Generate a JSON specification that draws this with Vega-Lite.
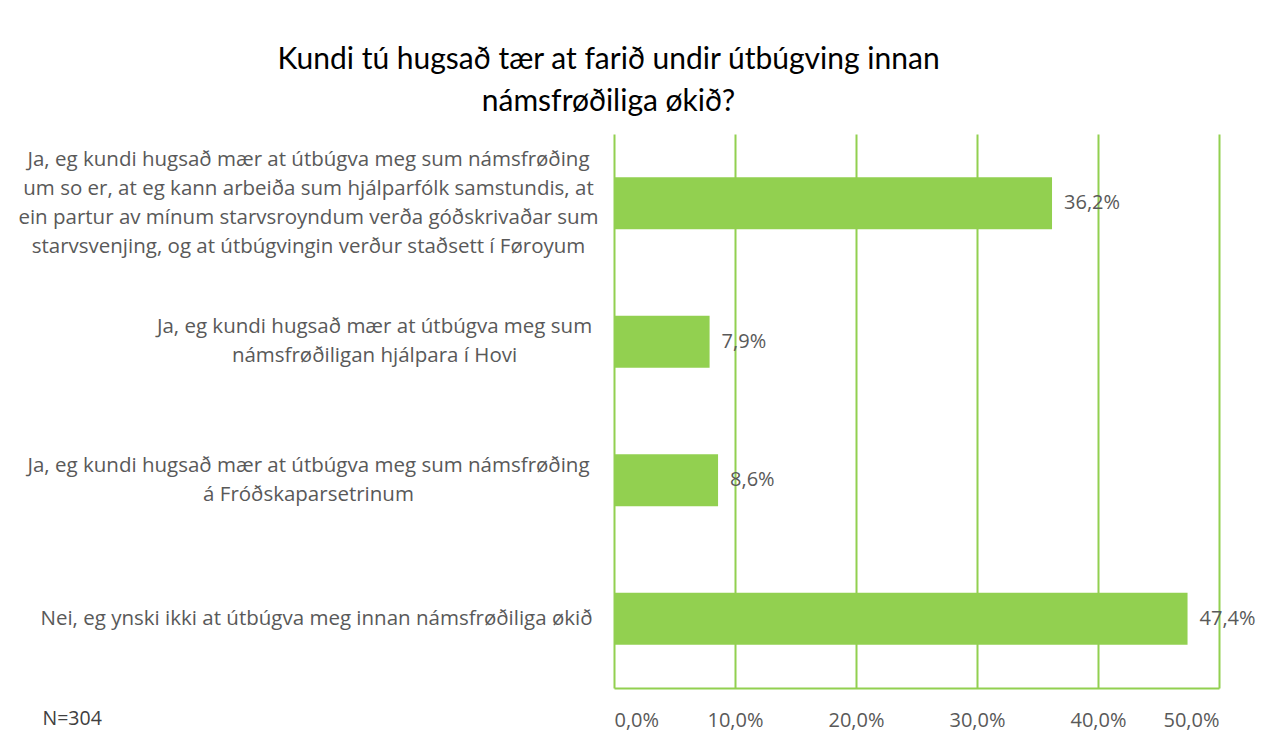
{
  "$schema": "https://vega.github.io/schema/vega-lite/v6.json",
  "width": 605,
  "height": 554,
  "autosize": {"type": "none"},
  "padding": {"left": 614, "top": 134, "right": 50, "bottom": 59},
  "background": "white",
  "title": {
    "text": ["Kundi tú hugsað tær at farið undir útbúgving innan", "námsfrøðiliga økið?"],
    "anchor": "middle",
    "frame": "group",
    "dx": -308,
    "offset": 17,
    "font": "Liberation Sans Narrow, Lato, sans-serif",
    "fontSize": 30,
    "fontWeight": "normal",
    "color": "#000000",
    "lineHeight": 42
  },
  "data": {
    "values": [
      {"label": "Ja, eg kundi hugsað mær at útbúgva meg sum námsfrøðing|um so er, at eg kann arbeiða sum hjálparfólk samstundis, at|ein partur av mínum starvsroyndum verða góðskrivaðar sum|starvsvenjing, og at útbúgvingin verður staðsett í Føroyum", "share": 0.362},
      {"label": "Ja, eg kundi hugsað mær at útbúgva meg sum|námsfrøðiligan hjálpara í Hovi", "share": 0.079},
      {"label": "Ja, eg kundi hugsað mær  at útbúgva meg sum námsfrøðing|á Fróðskaparsetrinum", "share": 0.086},
      {"label": "Nei, eg ynski ikki at útbúgva meg innan námsfrøðiliga økið", "share": 0.474}
    ]
  },
  "encoding": {
    "y": {
      "field": "label",
      "type": "nominal",
      "sort": null,
      "scale": {"paddingInner": 0.625, "paddingOuter": 0.3125},
      "axis": {
        "title": null,
        "domain": false,
        "ticks": false,
        "tickSize": 0,
        "labelExpr": "split(datum.value, '|')",
        "labelAlign": "center",
        "labelBaseline": "middle",
        "labelPadding": {
          "condition": [
            {"test": "indexof(datum.value, 'Hovi') >= 0", "value": 240},
            {"test": "indexof(datum.value, 'Nei,') >= 0", "value": 298}
          ],
          "value": 306
        },
        "labelOffset": {
          "condition": [
            {"test": "indexof(datum.value, 'Føroyum') >= 0", "value": -43.5},
            {"test": "indexof(datum.value, '|') >= 0", "value": -14.5}
          ],
          "value": 0
        },
        "labelFont": "Open Sans",
        "labelFontSize": 20.5,
        "labelColor": "#595959",
        "labelLineHeight": 29,
        "labelLimit": 800
      }
    },
    "x": {
      "field": "share",
      "type": "quantitative",
      "scale": {"domain": [0, 0.5], "nice": false},
      "axis": {
        "values": [0, 0.1, 0.2, 0.3, 0.4, 0.5],
        "format": ".1%",
        "grid": true,
        "gridColor": "#92D050",
        "gridWidth": 2,
        "gridOpacity": 1,
        "domainColor": "#92D050",
        "domainWidth": 2,
        "ticks": false,
        "tickSize": 0,
        "labelFont": "Open Sans",
        "labelFontSize": 20,
        "labelColor": "#595959",
        "labelPadding": 22,
        "labelBaseline": "top",
        "title": "N=304",
        "titleX": -572,
        "titleY": 30,
        "titleAlign": "left",
        "titleAnchor": "start",
        "titleBaseline": "middle",
        "titleFont": "Open Sans",
        "titleFontSize": 19.5,
        "titleFontWeight": "normal",
        "titleColor": "#404040"
      }
    }
  },
  "layer": [
    {"mark": {"type": "bar", "color": "#92D050"}},
    {
      "mark": {"type": "text", "align": "left", "baseline": "middle", "dx": 12, "font": "Open Sans", "fontSize": 20, "color": "#595959"},
      "encoding": {"text": {"field": "share", "type": "quantitative", "format": ".1%"}}
    }
  ],
  "config": {
    "view": {"stroke": null},
    "locale": {"number": {"decimal": ",", "thousands": ".", "grouping": [3], "currency": ["", " kr"]}}
  }
}
